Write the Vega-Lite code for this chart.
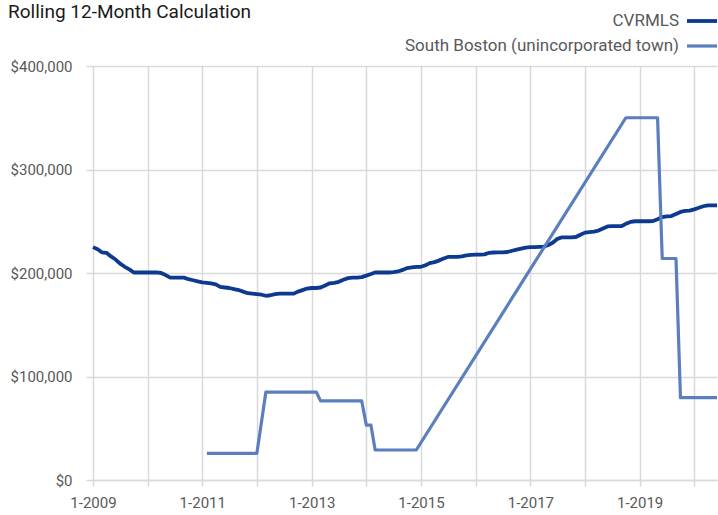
{
  "$schema": "https://vega.github.io/schema/vega-lite/v6.json",
  "width": 624,
  "height": 414,
  "autosize": {"type": "none"},
  "padding": {"left": 93, "top": 66, "right": 1, "bottom": 35},
  "background": "white",
  "title": {
    "text": "Rolling 12-Month Calculation",
    "anchor": "start",
    "frame": "group",
    "dx": -85,
    "offset": 0,
    "dy": 33,
    "baseline": "alphabetic",
    "font": "Roboto",
    "fontSize": 19,
    "fontWeight": "normal",
    "color": "#1a1a1a"
  },
  "config": {
    "font": "Roboto",
    "view": {"stroke": null},
    "axis": {
      "labelFont": "Roboto",
      "labelFontSize": 15,
      "labelColor": "#595959",
      "gridColor": "#d9d9d9",
      "gridWidth": 1.5,
      "tickColor": "#d9d9d9",
      "tickWidth": 1.5,
      "domainColor": "#d9d9d9",
      "domainWidth": 1.5,
      "title": null
    }
  },
  "data": {
    "values": [
      {"date":"2009-01-01","series":"CVRMLS","value":225000},
      {"date":"2009-02-01","series":"CVRMLS","value":223000},
      {"date":"2009-03-01","series":"CVRMLS","value":220000},
      {"date":"2009-04-01","series":"CVRMLS","value":219500},
      {"date":"2009-05-01","series":"CVRMLS","value":216000},
      {"date":"2009-06-01","series":"CVRMLS","value":213000},
      {"date":"2009-07-01","series":"CVRMLS","value":209000},
      {"date":"2009-08-01","series":"CVRMLS","value":206000},
      {"date":"2009-09-01","series":"CVRMLS","value":203500},
      {"date":"2009-10-01","series":"CVRMLS","value":200500},
      {"date":"2009-11-01","series":"CVRMLS","value":200500},
      {"date":"2009-12-01","series":"CVRMLS","value":200500},
      {"date":"2010-01-01","series":"CVRMLS","value":200500},
      {"date":"2010-02-01","series":"CVRMLS","value":200500},
      {"date":"2010-03-01","series":"CVRMLS","value":200500},
      {"date":"2010-04-01","series":"CVRMLS","value":200000},
      {"date":"2010-05-01","series":"CVRMLS","value":198000},
      {"date":"2010-06-01","series":"CVRMLS","value":195500},
      {"date":"2010-07-01","series":"CVRMLS","value":195500},
      {"date":"2010-08-01","series":"CVRMLS","value":195500},
      {"date":"2010-09-01","series":"CVRMLS","value":195500},
      {"date":"2010-10-01","series":"CVRMLS","value":194000},
      {"date":"2010-11-01","series":"CVRMLS","value":193000},
      {"date":"2010-12-01","series":"CVRMLS","value":192000},
      {"date":"2011-01-01","series":"CVRMLS","value":191000},
      {"date":"2011-02-01","series":"CVRMLS","value":190500},
      {"date":"2011-03-01","series":"CVRMLS","value":190000},
      {"date":"2011-04-01","series":"CVRMLS","value":189000},
      {"date":"2011-05-01","series":"CVRMLS","value":186500},
      {"date":"2011-06-01","series":"CVRMLS","value":186000},
      {"date":"2011-07-01","series":"CVRMLS","value":185500},
      {"date":"2011-08-01","series":"CVRMLS","value":184500},
      {"date":"2011-09-01","series":"CVRMLS","value":183500},
      {"date":"2011-10-01","series":"CVRMLS","value":182000},
      {"date":"2011-11-01","series":"CVRMLS","value":180500},
      {"date":"2011-12-01","series":"CVRMLS","value":180000},
      {"date":"2012-01-01","series":"CVRMLS","value":179500},
      {"date":"2012-02-01","series":"CVRMLS","value":179000},
      {"date":"2012-03-01","series":"CVRMLS","value":178000},
      {"date":"2012-04-01","series":"CVRMLS","value":178500},
      {"date":"2012-05-01","series":"CVRMLS","value":179500},
      {"date":"2012-06-01","series":"CVRMLS","value":180000},
      {"date":"2012-07-01","series":"CVRMLS","value":180000},
      {"date":"2012-08-01","series":"CVRMLS","value":180000},
      {"date":"2012-09-01","series":"CVRMLS","value":180000},
      {"date":"2012-10-01","series":"CVRMLS","value":182000},
      {"date":"2012-11-01","series":"CVRMLS","value":183500},
      {"date":"2012-12-01","series":"CVRMLS","value":185000},
      {"date":"2013-01-01","series":"CVRMLS","value":185500},
      {"date":"2013-02-01","series":"CVRMLS","value":185500},
      {"date":"2013-03-01","series":"CVRMLS","value":186000},
      {"date":"2013-04-01","series":"CVRMLS","value":188000},
      {"date":"2013-05-01","series":"CVRMLS","value":190000},
      {"date":"2013-06-01","series":"CVRMLS","value":190500},
      {"date":"2013-07-01","series":"CVRMLS","value":191500},
      {"date":"2013-08-01","series":"CVRMLS","value":193500},
      {"date":"2013-09-01","series":"CVRMLS","value":195000},
      {"date":"2013-10-01","series":"CVRMLS","value":195500},
      {"date":"2013-11-01","series":"CVRMLS","value":195500},
      {"date":"2013-12-01","series":"CVRMLS","value":196000},
      {"date":"2014-01-01","series":"CVRMLS","value":197500},
      {"date":"2014-02-01","series":"CVRMLS","value":199000},
      {"date":"2014-03-01","series":"CVRMLS","value":200500},
      {"date":"2014-04-01","series":"CVRMLS","value":200500},
      {"date":"2014-05-01","series":"CVRMLS","value":200500},
      {"date":"2014-06-01","series":"CVRMLS","value":200500},
      {"date":"2014-07-01","series":"CVRMLS","value":200800},
      {"date":"2014-08-01","series":"CVRMLS","value":201500},
      {"date":"2014-09-01","series":"CVRMLS","value":203000},
      {"date":"2014-10-01","series":"CVRMLS","value":204800},
      {"date":"2014-11-01","series":"CVRMLS","value":205500},
      {"date":"2014-12-01","series":"CVRMLS","value":206000},
      {"date":"2015-01-01","series":"CVRMLS","value":206000},
      {"date":"2015-02-01","series":"CVRMLS","value":207500},
      {"date":"2015-03-01","series":"CVRMLS","value":209500},
      {"date":"2015-04-01","series":"CVRMLS","value":210500},
      {"date":"2015-05-01","series":"CVRMLS","value":212000},
      {"date":"2015-06-01","series":"CVRMLS","value":214000},
      {"date":"2015-07-01","series":"CVRMLS","value":215500},
      {"date":"2015-08-01","series":"CVRMLS","value":215500},
      {"date":"2015-09-01","series":"CVRMLS","value":215500},
      {"date":"2015-10-01","series":"CVRMLS","value":216000},
      {"date":"2015-11-01","series":"CVRMLS","value":217000},
      {"date":"2015-12-01","series":"CVRMLS","value":217500},
      {"date":"2016-01-01","series":"CVRMLS","value":217800},
      {"date":"2016-02-01","series":"CVRMLS","value":217800},
      {"date":"2016-03-01","series":"CVRMLS","value":218000},
      {"date":"2016-04-01","series":"CVRMLS","value":219500},
      {"date":"2016-05-01","series":"CVRMLS","value":219800},
      {"date":"2016-06-01","series":"CVRMLS","value":220000},
      {"date":"2016-07-01","series":"CVRMLS","value":220000},
      {"date":"2016-08-01","series":"CVRMLS","value":220300},
      {"date":"2016-09-01","series":"CVRMLS","value":221500},
      {"date":"2016-10-01","series":"CVRMLS","value":222500},
      {"date":"2016-11-01","series":"CVRMLS","value":223500},
      {"date":"2016-12-01","series":"CVRMLS","value":224500},
      {"date":"2017-01-01","series":"CVRMLS","value":225000},
      {"date":"2017-02-01","series":"CVRMLS","value":225000},
      {"date":"2017-03-01","series":"CVRMLS","value":225300},
      {"date":"2017-04-01","series":"CVRMLS","value":225500},
      {"date":"2017-05-01","series":"CVRMLS","value":227000},
      {"date":"2017-06-01","series":"CVRMLS","value":229500},
      {"date":"2017-07-01","series":"CVRMLS","value":233000},
      {"date":"2017-08-01","series":"CVRMLS","value":234500},
      {"date":"2017-09-01","series":"CVRMLS","value":234500},
      {"date":"2017-10-01","series":"CVRMLS","value":234500},
      {"date":"2017-11-01","series":"CVRMLS","value":234800},
      {"date":"2017-12-01","series":"CVRMLS","value":237000},
      {"date":"2018-01-01","series":"CVRMLS","value":239000},
      {"date":"2018-02-01","series":"CVRMLS","value":239500},
      {"date":"2018-03-01","series":"CVRMLS","value":240000},
      {"date":"2018-04-01","series":"CVRMLS","value":241000},
      {"date":"2018-05-01","series":"CVRMLS","value":243000},
      {"date":"2018-06-01","series":"CVRMLS","value":245000},
      {"date":"2018-07-01","series":"CVRMLS","value":245200},
      {"date":"2018-08-01","series":"CVRMLS","value":245200},
      {"date":"2018-09-01","series":"CVRMLS","value":245200},
      {"date":"2018-10-01","series":"CVRMLS","value":247500},
      {"date":"2018-11-01","series":"CVRMLS","value":249300},
      {"date":"2018-12-01","series":"CVRMLS","value":250000},
      {"date":"2019-01-01","series":"CVRMLS","value":250000},
      {"date":"2019-02-01","series":"CVRMLS","value":250000},
      {"date":"2019-03-01","series":"CVRMLS","value":250000},
      {"date":"2019-04-01","series":"CVRMLS","value":250200},
      {"date":"2019-05-01","series":"CVRMLS","value":252000},
      {"date":"2019-06-01","series":"CVRMLS","value":254000},
      {"date":"2019-07-01","series":"CVRMLS","value":254800},
      {"date":"2019-08-01","series":"CVRMLS","value":255000},
      {"date":"2019-09-01","series":"CVRMLS","value":257000},
      {"date":"2019-10-01","series":"CVRMLS","value":259000},
      {"date":"2019-11-01","series":"CVRMLS","value":260000},
      {"date":"2019-12-01","series":"CVRMLS","value":260200},
      {"date":"2020-01-01","series":"CVRMLS","value":261500},
      {"date":"2020-02-01","series":"CVRMLS","value":263000},
      {"date":"2020-03-01","series":"CVRMLS","value":264500},
      {"date":"2020-04-01","series":"CVRMLS","value":265400},
      {"date":"2020-05-01","series":"CVRMLS","value":265400},
      {"date":"2020-06-01","series":"CVRMLS","value":265400},
      {"date":"2011-02-01","series":"South Boston (unincorporated town)","value":25800},
      {"date":"2011-03-01","series":"South Boston (unincorporated town)","value":25800},
      {"date":"2011-04-01","series":"South Boston (unincorporated town)","value":25800},
      {"date":"2011-05-01","series":"South Boston (unincorporated town)","value":25800},
      {"date":"2011-06-01","series":"South Boston (unincorporated town)","value":25800},
      {"date":"2011-07-01","series":"South Boston (unincorporated town)","value":25800},
      {"date":"2011-08-01","series":"South Boston (unincorporated town)","value":25800},
      {"date":"2011-09-01","series":"South Boston (unincorporated town)","value":25800},
      {"date":"2011-10-01","series":"South Boston (unincorporated town)","value":25800},
      {"date":"2011-11-01","series":"South Boston (unincorporated town)","value":25800},
      {"date":"2011-12-01","series":"South Boston (unincorporated town)","value":25800},
      {"date":"2012-01-01","series":"South Boston (unincorporated town)","value":25800},
      {"date":"2012-03-01","series":"South Boston (unincorporated town)","value":85000},
      {"date":"2012-04-01","series":"South Boston (unincorporated town)","value":85000},
      {"date":"2012-05-01","series":"South Boston (unincorporated town)","value":85000},
      {"date":"2012-06-01","series":"South Boston (unincorporated town)","value":85000},
      {"date":"2012-07-01","series":"South Boston (unincorporated town)","value":85000},
      {"date":"2012-08-01","series":"South Boston (unincorporated town)","value":85000},
      {"date":"2012-09-01","series":"South Boston (unincorporated town)","value":85000},
      {"date":"2012-10-01","series":"South Boston (unincorporated town)","value":85000},
      {"date":"2012-11-01","series":"South Boston (unincorporated town)","value":85000},
      {"date":"2012-12-01","series":"South Boston (unincorporated town)","value":85000},
      {"date":"2013-01-01","series":"South Boston (unincorporated town)","value":85000},
      {"date":"2013-02-01","series":"South Boston (unincorporated town)","value":85000},
      {"date":"2013-03-01","series":"South Boston (unincorporated town)","value":76500},
      {"date":"2013-04-01","series":"South Boston (unincorporated town)","value":76500},
      {"date":"2013-05-01","series":"South Boston (unincorporated town)","value":76500},
      {"date":"2013-06-01","series":"South Boston (unincorporated town)","value":76500},
      {"date":"2013-07-01","series":"South Boston (unincorporated town)","value":76500},
      {"date":"2013-08-01","series":"South Boston (unincorporated town)","value":76500},
      {"date":"2013-09-01","series":"South Boston (unincorporated town)","value":76500},
      {"date":"2013-10-01","series":"South Boston (unincorporated town)","value":76500},
      {"date":"2013-11-01","series":"South Boston (unincorporated town)","value":76500},
      {"date":"2013-12-01","series":"South Boston (unincorporated town)","value":76500},
      {"date":"2014-01-01","series":"South Boston (unincorporated town)","value":53000},
      {"date":"2014-02-01","series":"South Boston (unincorporated town)","value":53000},
      {"date":"2014-03-01","series":"South Boston (unincorporated town)","value":29000},
      {"date":"2014-04-01","series":"South Boston (unincorporated town)","value":29000},
      {"date":"2014-05-01","series":"South Boston (unincorporated town)","value":29000},
      {"date":"2014-06-01","series":"South Boston (unincorporated town)","value":29000},
      {"date":"2014-07-01","series":"South Boston (unincorporated town)","value":29000},
      {"date":"2014-08-01","series":"South Boston (unincorporated town)","value":29000},
      {"date":"2014-09-01","series":"South Boston (unincorporated town)","value":29000},
      {"date":"2014-10-01","series":"South Boston (unincorporated town)","value":29000},
      {"date":"2014-11-01","series":"South Boston (unincorporated town)","value":29000},
      {"date":"2014-12-01","series":"South Boston (unincorporated town)","value":29000},
      {"date":"2018-10-01","series":"South Boston (unincorporated town)","value":350000},
      {"date":"2018-11-01","series":"South Boston (unincorporated town)","value":350000},
      {"date":"2018-12-01","series":"South Boston (unincorporated town)","value":350000},
      {"date":"2019-01-01","series":"South Boston (unincorporated town)","value":350000},
      {"date":"2019-02-01","series":"South Boston (unincorporated town)","value":350000},
      {"date":"2019-03-01","series":"South Boston (unincorporated town)","value":350000},
      {"date":"2019-04-01","series":"South Boston (unincorporated town)","value":350000},
      {"date":"2019-05-01","series":"South Boston (unincorporated town)","value":350000},
      {"date":"2019-06-01","series":"South Boston (unincorporated town)","value":214000},
      {"date":"2019-07-01","series":"South Boston (unincorporated town)","value":214000},
      {"date":"2019-08-01","series":"South Boston (unincorporated town)","value":214000},
      {"date":"2019-09-01","series":"South Boston (unincorporated town)","value":214000},
      {"date":"2019-10-01","series":"South Boston (unincorporated town)","value":79500},
      {"date":"2019-11-01","series":"South Boston (unincorporated town)","value":79500},
      {"date":"2019-12-01","series":"South Boston (unincorporated town)","value":79500},
      {"date":"2020-01-01","series":"South Boston (unincorporated town)","value":79500},
      {"date":"2020-02-01","series":"South Boston (unincorporated town)","value":79500},
      {"date":"2020-03-01","series":"South Boston (unincorporated town)","value":79500},
      {"date":"2020-04-01","series":"South Boston (unincorporated town)","value":79500},
      {"date":"2020-05-01","series":"South Boston (unincorporated town)","value":79500},
      {"date":"2020-06-01","series":"South Boston (unincorporated town)","value":79500}
    ]
  },
  "mark": {"type": "line", "strokeJoin": "round", "strokeCap": "butt", "clip": false},
  "encoding": {
    "x": {
      "field": "date",
      "type": "temporal",
      "scale": {
        "type": "utc",
        "domain": [
          {"year": 2009, "month": 1, "date": 1, "utc": true},
          {"year": 2020, "month": 6, "date": 1, "utc": true}
        ]
      },
      "axis": {
        "tickCount": {"interval": "year", "step": 1},
        "labelExpr": "utcyear(datum.value) % 2 == 1 ? utcFormat(datum.value, '%-m-%Y') : ''",
        "tickSize": 6,
        "labelPadding": 9,
        "grid": true,
        "domain": true,
        "labelFlush": false,
        "labelOverlap": false
      }
    },
    "y": {
      "field": "value",
      "type": "quantitative",
      "scale": {"domain": [0, 400000], "nice": false},
      "axis": {
        "values": [0, 100000, 200000, 300000, 400000],
        "format": "$,.0f",
        "domain": false,
        "tickSize": 7,
        "labelPadding": 14,
        "grid": true
      }
    },
    "color": {
      "field": "series",
      "type": "nominal",
      "scale": {
        "domain": ["CVRMLS", "South Boston (unincorporated town)"],
        "range": ["#0B3A8E", "#5B7FBE"]
      },
      "legend": {
        "orient": "none",
        "legendX": 592,
        "legendY": -62,
        "title": null,
        "symbolType": "stroke",
        "symbolSize": 900,
        "symbolStrokeWidth": 3,
        "labelAlign": "right",
        "labelOffset": -40,
        "labelFont": "Roboto",
        "labelFontSize": 17,
        "labelColor": "#595959",
        "rowPadding": -16,
        "labelLimit": 400
      }
    },
    "strokeWidth": {
      "field": "series",
      "type": "nominal",
      "scale": {
        "domain": ["CVRMLS", "South Boston (unincorporated town)"],
        "range": [3.8, 3.2]
      },
      "legend": null
    }
  }
}
